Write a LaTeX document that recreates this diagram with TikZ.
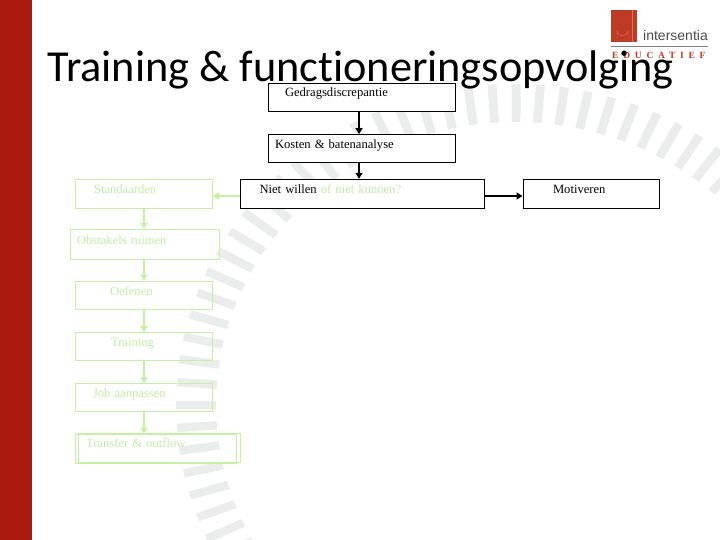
\documentclass[tikz,border=0pt]{standalone}
\usepackage{fontspec}
\setmainfont[WordSpace=1.3]{Liberation Serif}
\newfontfamily\titlefont[Ligatures=NoCommon]{Carlito}
\newfontfamily\logofont{Liberation Sans}
\newfontfamily\edufont[LetterSpace=50]{Liberation Serif}
\usetikzlibrary{arrows.meta}
\definecolor{slidered}{HTML}{AB1A0F}
\definecolor{logored}{HTML}{BE3A25}
\definecolor{softgreen}{HTML}{C4F0A4}
\definecolor{softgreentext}{HTML}{C4EAA8}
\definecolor{raygray}{HTML}{EBECEC}
\newcommand{\btext}[3]{\makebox[#1pt][l]{\hspace*{#2pt}\raisebox{0pt}[0pt][0pt]{#3}}}
\tikzset{
  darkbox/.style={draw=black,line width=0.9pt,fill=white,inner sep=0pt,font=\fontsize{12.6}{12.6}\selectfont,text=black},
  softbox/.style={draw=softgreen,line width=0.9pt,inner sep=0pt,font=\fontsize{12.6}{12.6}\selectfont,text=softgreentext},
  darkarrow/.style={draw=black,line width=1.9pt,-{Triangle[length=6pt,width=7pt]}},
  softarrow/.style={draw=softgreen,line width=1.9pt,-{Triangle[length=6pt,width=7pt]}},
  ray/.style={fill=raygray,draw=none}
}
\begin{document}
\begin{tikzpicture}[x=1pt,y=-1pt]
\useasboundingbox (0,0) rectangle (720,540);
\fill[white] (0,0) rectangle (720,540);
\begin{scope}
\clip (0,0) rectangle (720,540);
\begin{scope}[shift={(515,405)},xscale=1.056]
\foreach \k in {-8,...,60}{
  \pgfmathsetmacro{\a}{180-4.1*\k}
  \fill[ray,rotate=\a] (283,-4.2) rectangle (321,4.2);
}
\end{scope}
\end{scope}
\fill[slidered] (0,0) rectangle (32,540);
% logo
\fill[logored] (611,10) rectangle (637,42);
\draw[logored!70!white,line width=0.4pt] (617,42) -- (617,30) arc[start angle=180,end angle=0,x radius=5.5,y radius=6] -- (628,42);
\draw[logored!70!white,line width=0.4pt] (632,10) -- (632,42);
\node[inner sep=0pt,anchor=base west,font=\logofont\fontsize{14}{14}\selectfont,text=black!70] (logoname) at (643,41) {intersentia};
\draw[black!50,line width=0.5pt] (611,46) -- (708,46);
\node[inner sep=0pt,anchor=base west,font=\edufont\bfseries\fontsize{9.5}{9.5}\selectfont,text=logored] (logoedu) at (612,58.5) {EDUCATIEF};
\node[inner sep=0pt,anchor=base west,font=\titlefont\fontsize{44.3}{44.3}\selectfont] (title) at (47,81.5) {Training \& functioneringsopvolging};
% boxes
\node[darkbox,minimum width=187.5pt,minimum height=28pt] (ged) at (361.75,97) {\btext{187.5}{17}{Gedragsdiscrepantie}};
\node[darkbox,minimum width=187.5pt,minimum height=28pt] (kos) at (361.75,148.5) {\btext{187.5}{7}{Kosten \& batenanalyse}};
\node[darkbox,minimum width=244pt,minimum height=29pt] (niet) at (362.5,193.75) {\btext{244}{19}{Niet willen \textcolor{softgreentext}{of niet kunnen?}}};
\node[darkbox,minimum width=136.5pt,minimum height=29pt] (mot) at (591.25,193.75) {\btext{136.5}{30}{Motiveren}};
\node[softbox,minimum width=137pt,minimum height=29pt] (sta) at (144,193.75) {\btext{137}{18.5}{Standaarden}};
\node[softbox,minimum width=149pt,minimum height=30pt] (obs) at (145,244) {\btext{149}{6.5}{Obstakels ruimen}};
\node[softbox,minimum width=137pt,minimum height=28pt] (oef) at (144,295) {\btext{137}{34.5}{Oefenen}};
\node[softbox,minimum width=137pt,minimum height=28pt] (tra) at (144,346.5) {\btext{137}{35.5}{Training}};
\node[softbox,minimum width=137pt,minimum height=28pt] (job) at (144,397.5) {\btext{137}{17.5}{Job aanpassen}};
\node[softbox,minimum width=160.5pt,minimum height=29pt] (trb) at (155.75,448.5) {};
\node[softbox,minimum width=162.5pt,minimum height=28.5pt] (tr) at (159.25,447.75) {\btext{162.5}{8}{Transfer \& outflow}};
% connectors
\draw[darkarrow] ([xshift=-2.75pt]ged.south) -- ([xshift=-2.75pt]kos.north);
\draw[darkarrow] ([xshift=-2.75pt]kos.south) -- ([xshift=-3.5pt]niet.north);
\draw[softarrow] ([yshift=-2.25pt]niet.west) -- ([yshift=-2.25pt]sta.east);
\draw[darkarrow] ([yshift=-2.25pt]niet.east) -- ([yshift=-2.25pt]mot.west);
\draw[softarrow] (sta.south) -- ([xshift=-1pt]obs.north);
\draw[softarrow] ([xshift=-1pt]obs.south) -- (oef.north);
\draw[softarrow] (oef.south) -- (tra.north);
\draw[softarrow] (tra.south) -- (job.north);
\draw[softarrow] (job.south) -- (job.south |- trb.north);
\end{tikzpicture}
\end{document}
